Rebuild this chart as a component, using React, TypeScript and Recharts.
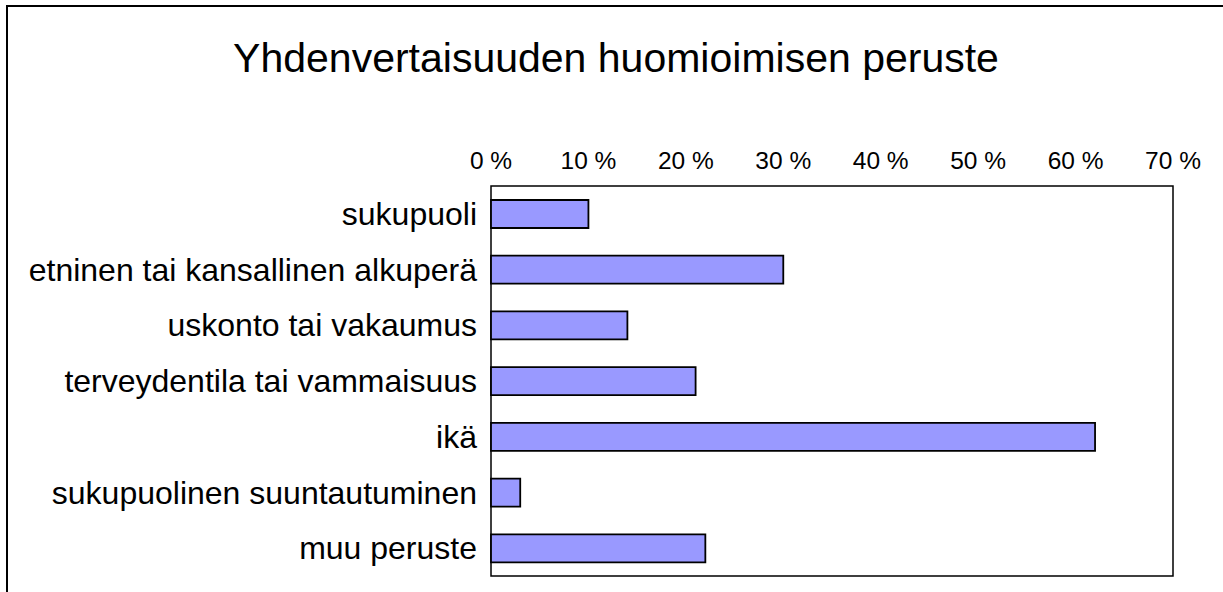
import { BarChart, Bar, XAxis, YAxis, ReferenceArea } from "recharts";

const categories = [
	"sukupuoli",
	"etninen tai kansallinen alkuperä",
	"uskonto tai vakaumus",
	"terveydentila tai vammaisuus",
	"ikä",
	"sukupuolinen suuntautuminen",
	"muu peruste",
];
const shares = [10, 30, 14, 21, 62, 3, 22];
const percentTicks = [0, 10, 20, 30, 40, 50, 60, 70];

const data = categories.map((name, i) => ({ name, value: shares[i] }));

const FONT = "'Liberation Sans', Arial, sans-serif";

// top axis labels, e.g. "10 %"
function PercentTick(props: any) {
	const { x, payload } = props;
	return (
		<text x={x} y={169} textAnchor="middle" fontSize={24.5} fontFamily={FONT} fill="#000">
			{`${payload.value} %`}
		</text>
	);
}

function CategoryTick(props: any) {
	const { x, y, payload } = props;
	return (
		<text x={x - 6} y={y} dy="0.35em" textAnchor="end" fontSize={32} fontFamily={FONT} fill="#000">
			{payload.value}
		</text>
	);
}

export default function App() {
	return (
		<div style={{ position: "absolute", left: 0, top: 0, width: 1223, height: 592, background: "#fff", overflow: "hidden" }}>
			{/* outer chart frame: only top and left edges are inside the picture */}
			<div style={{ position: "absolute", left: 6, top: 5, width: 1300, height: 700, border: "2px solid #000", boxSizing: "border-box" }} />
			<div
				style={{
					position: "absolute",
					left: 0,
					width: 1232,
					top: 33,
					textAlign: "center",
					fontFamily: FONT,
					fontSize: 41,
					lineHeight: "50px",
					color: "#000",
				}}
			>
				Yhdenvertaisuuden huomioimisen peruste
			</div>
			<div style={{ position: "absolute", left: 0, top: 0 }}>
				<BarChart
					width={1223}
					height={592}
					data={data}
					layout="vertical"
					margin={{ top: 146, right: 50, bottom: 16, left: 0 }}
				>
					<XAxis
						type="number"
						orientation="top"
						domain={[0, 70]}
						ticks={percentTicks}
						interval={0}
						height={40}
						axisLine={false}
						tickLine={false}
						tick={<PercentTick />}
					/>
					<YAxis
						type="category"
						dataKey="name"
						width={491}
						axisLine={false}
						tickLine={false}
						tick={<CategoryTick />}
						interval={0}
					/>
					<ReferenceArea x1={0} x2={70} fill="none" stroke="#000" strokeWidth={1.5} />
					<Bar
						dataKey="value"
						fill="#9999FF"
						stroke="#000"
						strokeWidth={1.8}
						barSize={28}
						isAnimationActive={false}
					/>
				</BarChart>
			</div>
		</div>
	);
}
